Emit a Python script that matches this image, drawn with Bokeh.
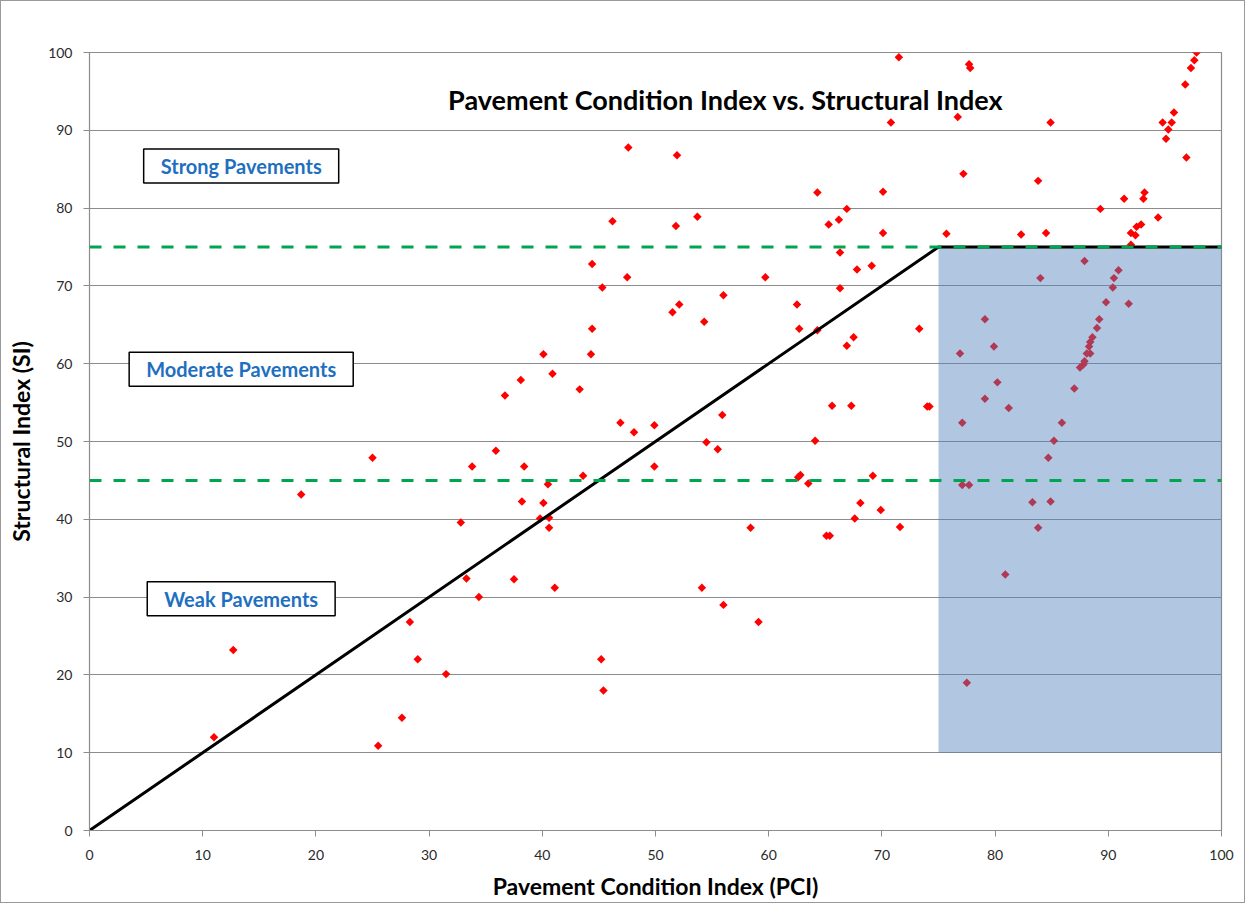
import math
from bokeh.plotting import figure
from bokeh.models import Label, Span, FixedTicker, Range1d
from bokeh.embed import file_html
from bokeh.resources import INLINE

# ---- data ----
pci = [11.0, 12.7, 18.7, 25.0, 25.5, 27.6, 28.3, 29.0, 31.5, 32.8, 33.3, 33.8, 34.4, 35.9, 36.7,
       37.5, 38.1, 38.2, 38.4, 39.8, 40.1, 40.1, 40.5, 40.6, 40.6, 40.9, 41.1, 43.3, 43.6, 44.3,
       44.4, 44.4, 45.2, 45.3, 45.4, 46.2, 46.9, 47.5, 47.6, 48.1, 49.9, 49.9, 51.5, 51.8, 51.9,
       52.1, 53.7, 54.1, 54.3, 54.5, 55.5, 55.9, 56.0, 56.0, 58.4, 59.1, 59.7, 62.5, 62.6, 62.8,
       62.7, 63.5, 64.1, 64.3, 64.3, 65.1, 65.4, 65.6, 65.3, 66.2, 66.9, 66.3, 66.3, 66.9, 67.5,
       67.3, 67.6, 67.8, 68.1, 69.1, 69.2, 69.9, 70.1, 70.1, 70.8, 71.5, 71.6, 73.3, 74.0, 74.2,
       75.7, 76.7, 76.9, 77.1, 77.1, 77.7, 77.2, 77.5, 77.7, 77.8, 79.1, 79.1, 79.9, 80.2, 80.9,
       81.2, 82.3, 83.3, 83.8, 83.8, 84.0, 84.5, 84.7, 84.9, 84.9, 85.2, 85.9, 87.0, 87.5, 87.8,
       87.9, 87.9, 88.1, 88.4, 88.3, 88.4, 88.6, 89.0, 89.2, 89.3, 89.8, 90.4, 90.5, 90.9, 91.4,
       91.8, 92.0, 92.0, 92.4, 92.5, 92.9, 93.1, 93.2, 94.4, 94.8, 95.1, 95.3, 95.6, 95.8, 96.8,
       96.9, 97.3, 97.6, 97.8]
si = [12.0, 23.2, 43.2, 47.9, 10.9, 14.5, 26.8, 22.0, 20.1, 39.6, 32.4, 46.8, 30.0, 48.8, 55.9,
      32.3, 57.9, 42.3, 46.8, 40.1, 61.2, 42.1, 44.5, 40.2, 38.9, 58.7, 31.2, 56.7, 45.6, 61.2,
      64.5, 72.8, 22.0, 69.8, 18.0, 78.3, 52.4, 71.1, 87.8, 51.2, 52.1, 46.8, 66.6, 77.7, 86.8,
      67.6, 78.9, 31.2, 65.4, 49.9, 49.0, 53.4, 68.8, 29.0, 38.9, 26.8, 71.1, 67.6, 45.4, 45.7,
      64.5, 44.6, 50.1, 64.3, 82.0, 37.9, 37.9, 54.6, 77.9, 78.5, 79.9, 74.3, 69.7, 62.3, 63.4,
      54.6, 40.1, 72.1, 42.1, 72.6, 45.6, 41.2, 82.1, 76.8, 91.0, 99.4, 39.0, 64.5, 54.5, 54.5,
      76.7, 91.7, 61.3, 52.4, 44.4, 44.4, 84.4, 19.0, 98.5, 98.0, 65.7, 55.5, 62.2, 57.6, 32.9,
      54.3, 76.6, 42.2, 38.9, 83.5, 71.0, 76.8, 47.9, 42.3, 91.0, 50.1, 52.4, 56.8, 59.5, 59.9,
      60.3, 73.2, 61.3, 61.3, 62.2, 62.8, 63.4, 64.6, 65.7, 79.9, 67.9, 69.8, 71.0, 72.0, 81.2,
      67.7, 75.3, 76.8, 76.5, 77.6, 77.9, 81.2, 82.0, 78.8, 91.0, 88.9, 90.1, 91.0, 92.3, 95.9,
      86.5, 98.0, 99.0, 100.0]

ticks = [0, 10, 20, 30, 40, 50, 60, 70, 80, 90, 100]
threshold_x = [0, 75, 100]
threshold_y = [0, 75, 75]
si_strong = 75
si_weak = 45
zone_left, zone_right, zone_bottom, zone_top = 75, 100, 10, 75
zone_labels = ["Strong Pavements", "Moderate Pavements", "Weak Pavements"]
zone_label_y = [85.4, 59.3, 29.8]
chart_title = "Pavement Condition Index vs. Structural Index"

W, H = 1245, 903
p = figure(width=W, height=H, output_backend="svg", toolbar_location=None,
           x_range=Range1d(0, 100), y_range=Range1d(0, 100),
           min_border_left=88, min_border_right=W - 1220, min_border_top=51,
           min_border_bottom=H - 829)
p.border_fill_color = "white"
p.background_fill_color = "white"
p.outline_line_color = "#8c8c8c"
p.outline_line_width = 1.2

FONT = "Lato"
for ax in (p.xaxis[0], p.yaxis[0]):
    ax.ticker = FixedTicker(ticks=ticks)
    ax.axis_line_color = "#8c8c8c"
    ax.major_tick_line_color = "#8c8c8c"
    ax.minor_tick_line_color = None
    ax.major_tick_in = 0
    ax.major_tick_out = 6
    ax.major_label_text_font = FONT
    ax.major_label_text_font_size = "14px"
    ax.major_label_text_color = "#2a2a2a"
    ax.axis_label_text_font = FONT
    ax.axis_label_text_font_style = "bold"
    ax.axis_label_text_font_size = "23px"
    ax.axis_label_text_color = "black"

p.xaxis.axis_label = "Pavement Condition Index (PCI)"
p.yaxis.axis_label = "Structural Index (SI)"
p.xaxis.major_label_standoff = 13
p.yaxis.major_label_standoff = 11
p.xaxis.axis_label_standoff = 9
p.yaxis.axis_label_standoff = 10

p.xgrid.grid_line_color = None
p.ygrid.ticker = FixedTicker(ticks=ticks)
p.ygrid.grid_line_color = "#8c8c8c"
p.ygrid.grid_line_width = 1

# points
p.scatter(pci, si, marker="square", angle=math.pi / 4, size=6,
          fill_color="red", line_color=None)

# shaded zone
p.quad(left=[zone_left], right=[zone_right], bottom=[zone_bottom], top=[zone_top],
       fill_color="#4f81bd", fill_alpha=0.45, line_color=None)

# threshold line
p.line(threshold_x, threshold_y, line_color="black", line_width=3)

# green dashed SI limits
for yv in (si_strong, si_weak):
    p.add_layout(Span(location=yv, dimension="width", line_color="#00a550",
                      line_width=3, line_dash="12 12"))

# title inside plot
p.add_layout(Label(x=56.2, y=94.0, text=chart_title, text_align="center",
                   text_baseline="middle", text_font=FONT, text_font_style="bold",
                   text_font_size="27px", text_color="black"))

for txt, yv in zip(zone_labels, zone_label_y):
    p.add_layout(Label(x=13.4, y=yv, text=txt, text_align="center", text_baseline="middle",
                       text_font=FONT, text_font_style="bold", text_font_size="20px",
                       text_color="#1f6fc0", background_fill_color="white",
                       border_line_color="black", border_line_width=1.5,
                       padding=(17, 5)))

p.styles = {"border": "1px solid #9a9a9a", "box-sizing": "border-box"}

open("out.html", "w").write(file_html(p, INLINE))
